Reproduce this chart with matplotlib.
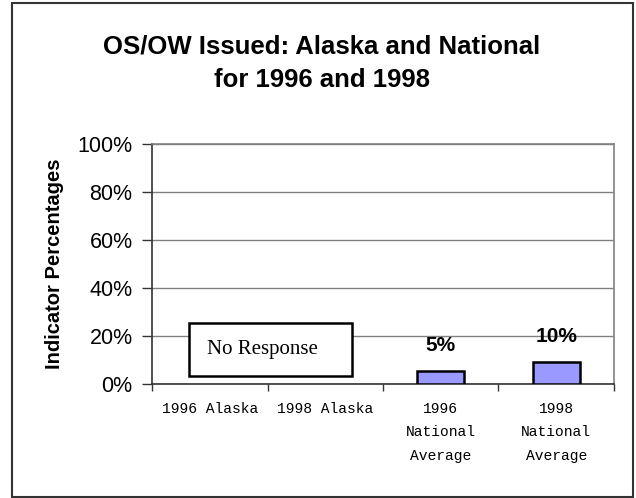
import matplotlib
matplotlib.use("Agg")
import matplotlib.pyplot as plt
from matplotlib.patches import Rectangle

categories = ["1996 Alaska", "1998 Alaska", "1996\nNational\nAverage", "1998\nNational\nAverage"]
values = [None, None, 5.4, 9.3]
bar_labels = ["", "", "5%", "10%"]
yticks = [0, 20, 40, 60, 80, 100]
ytick_labels = ["0%", "20%", "40%", "60%", "80%", "100%"]
title = "OS/OW Issued: Alaska and National\nfor 1996 and 1998"
ylabel = "Indicator Percentages"
note = "No Response"

W, H = 636, 498
fig = plt.figure(figsize=(W / 100, H / 100), dpi=100)

# outer frame
fig.patches.append(Rectangle((12 / W, 1 - 497 / H), (633 - 12) / W, (497 - 3) / H,
                             transform=fig.transFigure, fill=False,
                             edgecolor="#333333", linewidth=1.5))

ax = fig.add_axes([152 / W, 1 - 384 / H, (614 - 152) / W, (384 - 144) / H])

xs = list(range(len(categories)))
for x, v in zip(xs, values):
    if v is not None:
        ax.bar(x, v, width=0.41, color="#9999FF", edgecolor="black", linewidth=1.8, zorder=3)
for x, v, lab in zip(xs, values, bar_labels):
    if v is not None and lab:
        ax.text(x, v + 10.5, lab, ha="center", va="center", fontsize=15,
                fontweight="bold", family="Liberation Sans", zorder=4)

ax.set_xlim(-0.5, len(categories) - 0.5)
ax.set_ylim(0, 100)
ax.set_yticks(yticks)
ax.set_yticklabels(ytick_labels, family="Liberation Sans", fontsize=15.5)
ax.yaxis.grid(True, color="#808080", linewidth=1.0, zorder=0)
ax.set_axisbelow(True)

ax.set_xticks([i + 0.5 for i in xs[:-1]] + [-0.5, len(categories) - 0.5])
ax.set_xticklabels([])
ax.set_xticks(xs, minor=True)
ax.set_xticklabels(categories, minor=True, family="Liberation Mono", fontsize=10.5,
                   linespacing=1.85, va="top")
ax.tick_params(axis="x", which="minor", length=0, pad=13)
ax.tick_params(axis="x", which="major", length=5, width=1, color="#333333")
ax.tick_params(axis="y", length=7, width=1, color="#333333", pad=7)

for s in ["top", "right"]:
    ax.spines[s].set_color("#808080")
    ax.spines[s].set_linewidth(1.2)
for s in ["left", "bottom"]:
    ax.spines[s].set_color("#333333")
    ax.spines[s].set_linewidth(1.2)

ax.set_ylabel(ylabel, family="Liberation Sans", fontsize=14.5, fontweight="bold", labelpad=10)

# No Response box
ax.add_patch(Rectangle((-0.18, 3.3), 1.415, 22.2, facecolor="white",
                       edgecolor="black", linewidth=1.8, zorder=5))
ax.text(0.46, 14.5, note, ha="center", va="center", family="Liberation Serif",
        fontsize=15, zorder=6)

fig.text(322 / W, 1 - 63 / H, title, ha="center", va="center", family="Liberation Sans",
         fontsize=18.5, fontweight="bold", linespacing=1.5)

fig.savefig("out.png", dpi=100)
